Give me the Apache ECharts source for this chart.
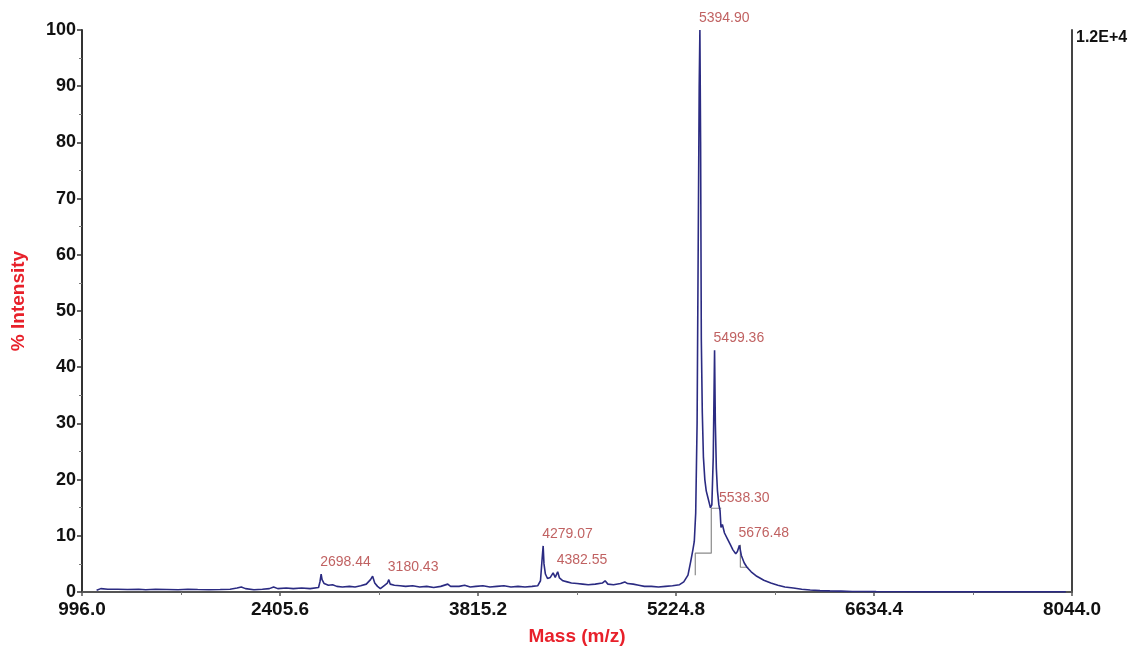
<!DOCTYPE html>
<html>
<head>
<meta charset="utf-8">
<script src="https://cdn.jsdelivr.net/npm/echarts@6/dist/echarts.min.js"></script>
<style>
html,body{margin:0;padding:0;background:#fff;}
#chart{width:1146px;height:651px;}
</style>
</head>
<body>
<div id="chart"></div>
<script>
// Spectrum: mass (m/z) and % intensity
const massValues = [
 1100,1130,1180,1250,1320,1400,1450,1520,1600,1680,1750,1820,1900,1980,2050,2100,2130,2160,2220,2280,
 2330,2360,2390,2450,2500,2560,2620,2680,2690,2698.44,2705,2720,2750,2780,2810,2850,2900,2940,2980,3020,
 3050,3065,3080,3100,3120,3150,3170,3180.43,3190,3220,3260,3300,3350,3400,3450,3500,3550,3600,3620,3680,
 3720,3760,3800,3850,3900,3950,4000,4050,4100,4150,4200,4240,4260,4272,4279.07,4285,4295,4310,4330,4350,
 4365,4382.55,4395,4420,4450,4480,4520,4560,4600,4650,4700,4720,4740,4780,4830,4860,4880,4920,4960,5000,
 5050,5100,5150,5200,5250,5280,5310,5330,5345,5355,5365,5375,5385,5390,5394.9,5400,5405,5412,5420,5430,
 5440,5450,5460,5470,5480,5490,5499.36,5505,5512,5520,5530,5538.3,5545,5555,5570,5590,5610,5630,5650,5662,
 5676.48,5690,5710,5730,5760,5800,5850,5900,5950,6000,6060,6120,6180,6250,6320,6400,6480,6560,6650,6750,
 6850,7000,7200,7400,7600,7800,8000
];
const intensityValues = [
 0.3,0.6,0.5,0.5,0.45,0.5,0.4,0.5,0.45,0.4,0.5,0.45,0.4,0.45,0.5,0.7,0.9,0.6,0.4,0.5,
 0.6,0.9,0.6,0.7,0.6,0.7,0.6,0.8,1.8,3.2,2.2,1.5,1.2,1.3,1.0,0.9,1.0,0.9,1.1,1.4,
 2.2,2.8,1.6,1.0,0.6,1.2,1.6,2.2,1.4,1.2,1.1,1.0,1.1,0.9,1.0,0.8,1.0,1.4,1.0,1.0,
 1.2,0.9,1.0,1.1,0.9,1.0,1.1,0.9,1.0,0.9,1.0,1.1,2.0,6.0,8.2,5.0,3.2,2.4,2.6,3.4,
 2.6,3.6,2.5,2.0,1.8,1.6,1.5,1.4,1.3,1.4,1.6,2.0,1.4,1.3,1.5,1.8,1.5,1.4,1.2,1.0,
 1.0,0.9,1.0,1.1,1.3,1.8,3.0,5.5,7.5,9.0,14,30,70,90,100,80,45,32,24,20,
 18,17,16,15,15.5,24,43,30,22,18,15.5,14.5,11.5,12,10.5,9.5,8.5,7.5,6.8,7.2,
 8.3,6.5,5.2,4.4,3.6,2.8,2.1,1.6,1.2,0.9,0.7,0.5,0.35,0.25,0.2,0.15,0.1,0.08,0.06,0.05,
 0.04,0.03,0.03,0.02,0.02,0.02,0.02
];
// Labelled peaks
const peakMasses = [2698.44,3180.43,4279.07,4382.55,5394.90,5499.36,5538.30,5676.48];
const peakIntensities = [3.2,2.2,8.2,3.6,100,43,14.5,8.3];
const peakTexts = ['2698.44','3180.43','4279.07','4382.55','5394.90','5499.36','5538.30','5676.48'];
// Integration step markers (gray)
const stepA_mass = [5362,5362,5476,5476,5547];
const stepA_int  = [3.0,6.9,6.9,14.9,14.9];
const stepB_mass = [5683,5683,5740];
const stepB_int  = [8.4,4.4,4.4];
// Axes
const xTickLabels = ['996.0','2405.6','3815.2','5224.8','6634.4','8044.0'];
const xMin = 996.0, xMax = 8044.0, xStep = 1409.6;
const yTicks = [0,10,20,30,40,50,60,70,80,90,100];
const rightAxisText = '1.2E+4';

const zip = (a,b) => a.map((v,i)=>[v,b[i]]);

const chart = echarts.init(document.getElementById('chart'));
const font = '"Liberation Sans", Arial, sans-serif';
chart.setOption({
  animation:false,
  backgroundColor:'#fff',
  grid:{left:82,right:74,top:30,bottom:59,containLabel:false},
  xAxis:{
    type:'value', min:xMin, max:xMax, interval:xStep,
    name:'Mass (m/z)', nameLocation:'middle', nameGap:35,
    nameTextStyle:{color:'#e8202a',fontWeight:'bold',fontSize:19,fontFamily:font},
    axisLine:{show:true,lineStyle:{color:'#555',width:2}},
    axisTick:{show:true,length:4,lineStyle:{color:'#555',width:1.5}},
    minorTick:{show:true,splitNumber:2,length:3,lineStyle:{color:'#777'}},
    splitLine:{show:false},
    axisLabel:{
      color:'#111',fontWeight:'bold',fontSize:19,fontFamily:font,margin:8,
      formatter:function(v){
        const i = Math.round((v-xMin)/xStep);
        return xTickLabels[i] !== undefined ? xTickLabels[i] : '';
      }
    }
  },
  yAxis:[{
    type:'value', min:yTicks[0], max:yTicks[yTicks.length-1], interval:10,
    name:'% Intensity', nameLocation:'middle', nameGap:54, nameRotate:90,
    nameTextStyle:{color:'#e8202a',fontWeight:'bold',fontSize:19,fontFamily:font,padding:[0,0,0,20]},
    axisLine:{show:true,lineStyle:{color:'#333',width:2}},
    axisTick:{show:true,length:5,lineStyle:{color:'#333',width:1.5}},
    minorTick:{show:true,splitNumber:2,length:3,lineStyle:{color:'#777'}},
    splitLine:{show:false},
    axisLabel:{color:'#111',fontWeight:'bold',fontSize:18,fontFamily:font,margin:6}
  },{
    type:'value', min:0, max:100, interval:100, position:'right',
    axisLine:{show:true,lineStyle:{color:'#444',width:2}},
    axisTick:{show:false}, splitLine:{show:false},
    axisLabel:{
      show:true,inside:false,margin:4,color:'#111',fontWeight:'bold',fontSize:16,fontFamily:font,
      verticalAlign:'top',
      formatter:function(v){ return v===100 ? rightAxisText : ''; }
    }
  }],
  series:[
    {
      type:'line', data:zip(stepA_mass,stepA_int), showSymbol:false, symbol:'none',
      lineStyle:{color:'#8a8a8a',width:1.2}, z:1, silent:true
    },
    {
      type:'line', data:zip(stepB_mass,stepB_int), showSymbol:false, symbol:'none',
      lineStyle:{color:'#8a8a8a',width:1.2}, z:1, silent:true
    },
    {
      type:'line', data:zip(massValues,intensityValues), showSymbol:false, symbol:'none',
      lineStyle:{color:'#2b2b82',width:1.6}, z:2
    },
    {
      type:'scatter', symbolSize:0, z:3,
      data:peakMasses.map((m,i)=>({value:[m,peakIntensities[i]],name:peakTexts[i]})),
      label:{
        show:true, position:[-1,-19], formatter:p=>p.name,
        color:'#b03a3a', fontSize:14, fontFamily:font, align:'left'
      }
    }
  ]
});
</script>
</body>
</html>
